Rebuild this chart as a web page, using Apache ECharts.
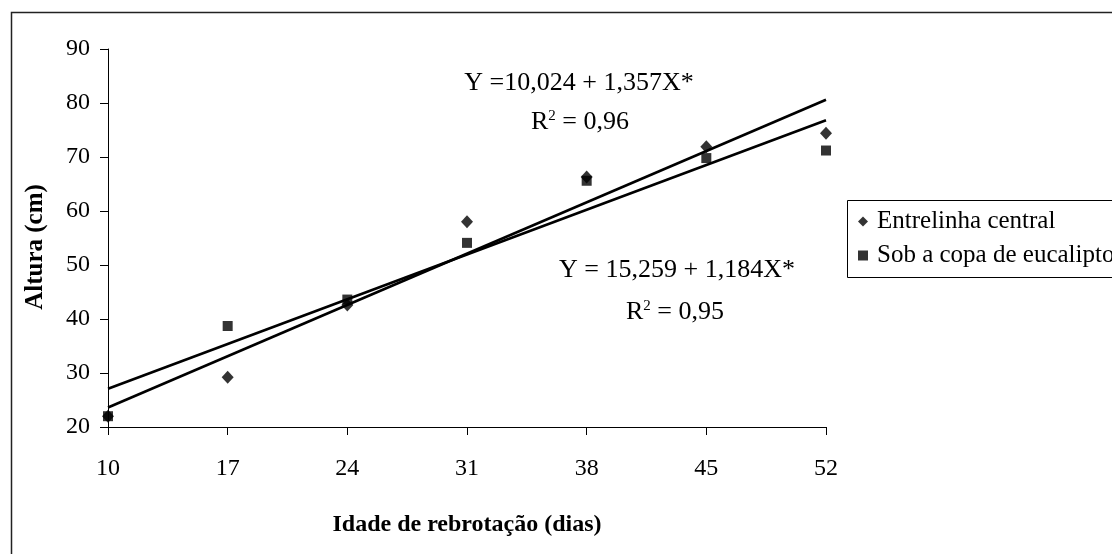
<!DOCTYPE html>
<html>
<head>
<meta charset="utf-8">
<script src="https://cdn.jsdelivr.net/npm/echarts@6/dist/echarts.min.js"></script>
<style>
html,body{margin:0;padding:0;background:#fff;}
#c{width:1112px;height:554px;}
</style>
</head>
<body>
<div id="c"></div>
<script>
// ---- data ----
var days = [10, 17, 24, 31, 38, 45, 52];
var xTicks = [10, 17, 24, 31, 38, 45, 52];
var entrelinha = [22.0, 29.2, 42.6, 58.0, 66.3, 71.9, 74.4];
var sobCopa = [22.0, 38.7, 43.6, 54.1, 65.6, 69.8, 71.2];
var regX = [10, 52];
var regEntrelinha = [23.6, 80.6];
var regSobCopa = [27.1, 76.8];
var seriesNames = ['Entrelinha central', 'Sob a copa de eucalipto'];

function pairs(xs, ys) { return xs.map(function (x, i) { return [x, ys[i]]; }); }

var FONT = "'Liberation Serif', 'Times New Roman', serif";
var chart = echarts.init(document.getElementById('c'));
chart.setOption({
  animation: false,
  backgroundColor: '#fff',
  textStyle: { fontFamily: FONT, color: '#000' },
  grid: { left: 108, right: 286, top: 49, bottom: 127, containLabel: false },
  xAxis: {
    type: 'value', min: 10, max: 52,
    name: 'Idade de rebrotação (dias)', nameLocation: 'middle', nameGap: 86,
    nameTextStyle: { fontFamily: FONT, fontWeight: 'bold', fontSize: 24, color: '#000', letterSpacing: -0.2 },
    axisLine: { show: true, lineStyle: { color: '#000', width: 1 } },
    axisTick: { show: true, length: 8, inside: false, customValues: xTicks, lineStyle: { color: '#000' } },
    axisLabel: { customValues: xTicks, margin: 30, fontSize: 24, color: '#000', fontFamily: FONT },
    splitLine: { show: false }
  },
  yAxis: {
    type: 'value', min: 20, max: 90, interval: 10,
    name: 'Altura (cm)', nameLocation: 'middle', nameGap: 60, nameRotate: 90,
    nameTextStyle: { fontFamily: FONT, fontWeight: 'bold', fontSize: 25, color: '#000', padding: [0, 18, 0, 0] },
    axisLine: { show: true, lineStyle: { color: '#000', width: 1 } },
    axisTick: { show: true, length: 8, lineStyle: { color: '#000' } },
    axisLabel: { margin: 18, fontSize: 24, color: '#000', fontFamily: FONT },
    splitLine: { show: false }
  },
  legend: {
    data: seriesNames,
    orient: 'vertical', left: 845, top: 198,
    borderWidth: 0,
    padding: [11, 0, 8, 13], itemGap: 9, itemWidth: 10, itemHeight: 10,
    textStyle: { fontFamily: FONT, fontSize: 25, color: '#000', padding: [0, 0, 0, 4] }
  },
  series: [
    {
      name: seriesNames[0], type: 'scatter', symbol: 'diamond', symbolSize: [12, 13],
      itemStyle: { color: '#000' }, z: 5,
      data: pairs(days, entrelinha)
    },
    {
      name: seriesNames[1], type: 'scatter', symbol: 'rect', symbolSize: 10,
      itemStyle: { color: '#000' }, z: 4,
      data: pairs(days, sobCopa)
    },
    {
      name: 'reg1', type: 'line', symbol: 'none', lineStyle: { color: '#000', width: 2.6 },
      data: pairs(regX, regEntrelinha), z: 3
    },
    {
      name: 'reg2', type: 'line', symbol: 'none', lineStyle: { color: '#000', width: 2.6 },
      data: pairs(regX, regSobCopa), z: 3
    }
  ],
  graphic: [
    { type: 'rect', left: 9, top: 10, shape: { x: 0, y: 0, width: 1200, height: 600 },
      style: { fill: 'none', stroke: '#222', lineWidth: 1.5 }, silent: true, z: -1 },
    { type: 'rect', left: 845, top: 198, shape: { x: 0, y: 0, width: 400, height: 77 },
      style: { fill: 'none', stroke: '#000', lineWidth: 1 }, silent: true, z: -1 },
    { type: 'text', x: 579, y: 83, style: { text: 'Y =10,024 + 1,357X*', font: '26px ' + FONT, fill: '#000', align: 'center', verticalAlign: 'middle' } },
    { type: 'text', x: 580, y: 122, style: {
        text: '{a|R}{s|2}{a| = 0,96}', align: 'center', verticalAlign: 'middle',
        rich: { a: { fontSize: 26, fontFamily: FONT, fill: '#000', verticalAlign: 'bottom' },
                s: { fontSize: 15, fontFamily: FONT, fill: '#000', verticalAlign: 'bottom', padding: [0, 0, 12, 0] } } } },
    { type: 'text', x: 677, y: 270, style: { text: 'Y = 15,259 + 1,184X*', font: '26px ' + FONT, fill: '#000', align: 'center', verticalAlign: 'middle' } },
    { type: 'text', x: 675, y: 312, style: {
        text: '{a|R}{s|2}{a| = 0,95}', align: 'center', verticalAlign: 'middle',
        rich: { a: { fontSize: 26, fontFamily: FONT, fill: '#000', verticalAlign: 'bottom' },
                s: { fontSize: 15, fontFamily: FONT, fill: '#000', verticalAlign: 'bottom', padding: [0, 0, 12, 0] } } } }
  ]
});
</script>
</body>
</html>
